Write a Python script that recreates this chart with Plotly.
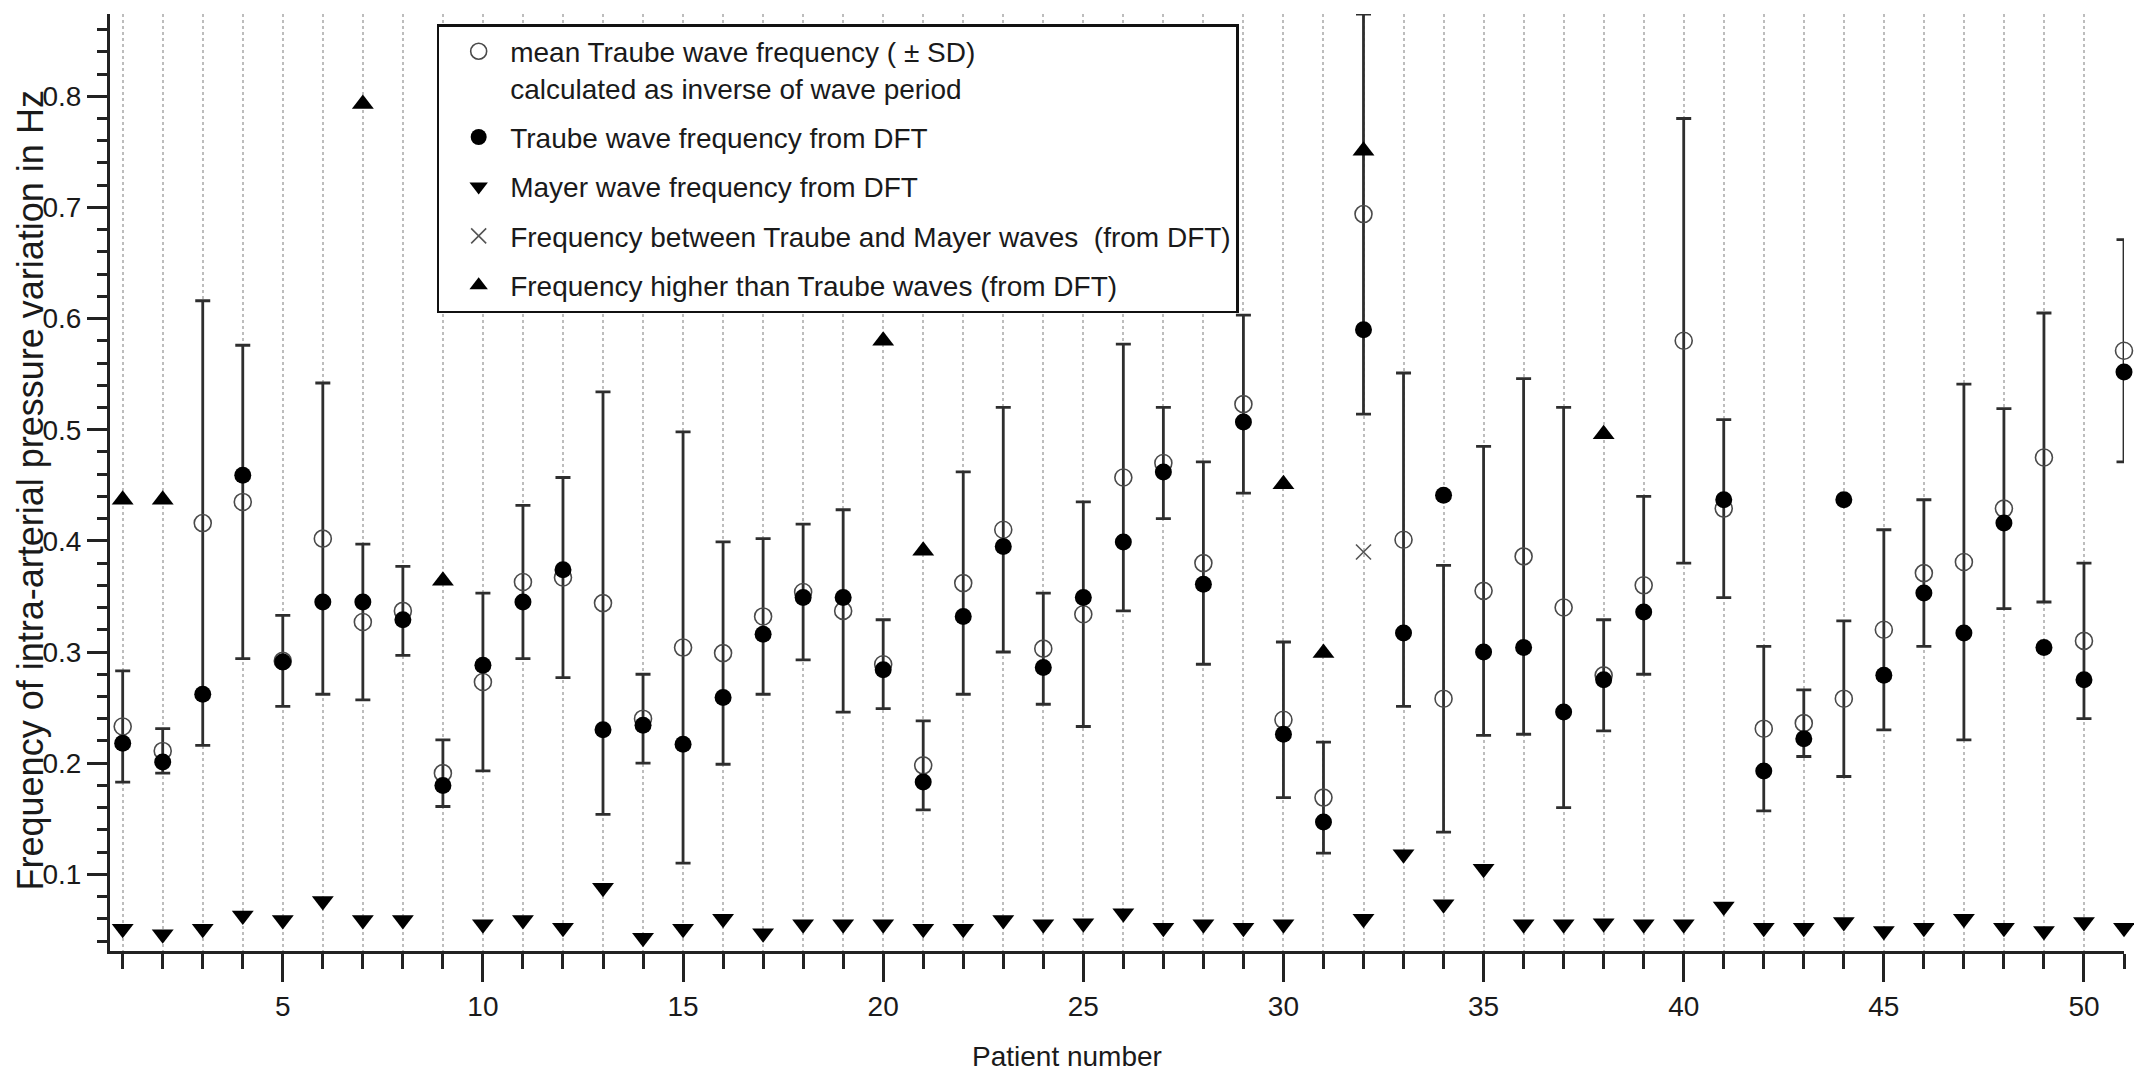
import plotly.graph_objects as go

# Patient index on the x axis
patients = list(range(1, 52))

# Mean Traube wave frequency (inverse of wave period), Hz
mean_freq = [0.233, 0.211, 0.416, 0.435, 0.292, 0.402, 0.327, 0.337, 0.191, 0.273,
             0.363, 0.367, 0.344, 0.240, 0.304, 0.299, 0.332, 0.354, 0.337, 0.289,
             0.198, 0.362, 0.410, 0.303, 0.334, 0.457, 0.470, 0.380, 0.523, 0.239,
             0.169, 0.694, 0.401, 0.258, 0.355, 0.386, 0.340, 0.279, 0.360, 0.580,
             0.429, 0.231, 0.236, 0.258, 0.320, 0.371, 0.381, 0.429, 0.475, 0.310,
             0.571]

# Standard deviation of the mean Traube frequency, Hz
sd_freq = [0.050, 0.020, 0.200, 0.141, 0.041, 0.140, 0.070, 0.040, 0.030, 0.080,
           0.069, 0.090, 0.190, 0.040, 0.194, 0.100, 0.070, 0.061, 0.091, 0.040,
           0.040, 0.100, 0.110, 0.050, 0.101, 0.120, 0.050, 0.091, 0.080, 0.070,
           0.050, 0.180, 0.150, 0.120, 0.130, 0.160, 0.180, 0.050, 0.080, 0.200,
           0.080, 0.074, 0.030, 0.070, 0.090, 0.066, 0.160, 0.090, 0.130, 0.070,
           0.100]

# Traube wave frequency from DFT, Hz (None = not detected)
traube_dft = [0.218, 0.201, 0.262, 0.459, 0.291, 0.345, 0.345, 0.329, 0.180, 0.288,
              0.345, 0.374, 0.230, 0.234, 0.217, 0.259, 0.316, 0.349, 0.349, 0.284,
              0.183, 0.332, 0.395, 0.286, 0.349, 0.399, 0.462, 0.361, 0.507, 0.226,
              0.147, 0.590, 0.317, 0.441, 0.300, 0.304, 0.246, 0.275, 0.336, None,
              0.437, 0.193, 0.222, 0.437, 0.279, 0.353, 0.317, 0.416, 0.304, 0.275,
              0.552]

# Mayer wave frequency from DFT, Hz (None = not detected)
mayer_dft = [0.051, 0.046, 0.051, 0.063, 0.059, 0.076, 0.059, 0.059, None, 0.055,
             0.059, 0.052, 0.088, 0.043, 0.051, 0.060, 0.047, 0.055, 0.055, 0.055,
             0.051, 0.051, 0.059, 0.055, 0.056, 0.065, 0.052, 0.055, 0.052, 0.055,
             None, 0.060, 0.118, 0.073, 0.105, 0.055, 0.055, 0.056, 0.055, 0.055,
             0.071, 0.052, 0.052, 0.057, 0.049, 0.052, 0.060, 0.052, 0.049, 0.057,
             0.052]

# Peaks between Traube and Mayer bands
between_patients = [32]
between_freq = [0.390]

# Peaks above the Traube band
higher_patients = [1, 2, 7, 9, 20, 21, 30, 31, 32, 38]
higher_freq = [0.437, 0.437, 0.793, 0.364, 0.580, 0.391, 0.451, 0.299, 0.751, 0.496]

x_tick_vals = [5, 10, 15, 20, 25, 30, 35, 40, 45, 50]

FONT = "Liberation Sans, Arial, sans-serif"
INK = "#1a1a1a"
GRID = "#bdbdbd"

fig = go.Figure()

fig.add_trace(go.Scatter(
    x=patients, y=mean_freq, mode="markers", legendgroup="mean", cliponaxis=False,
    name="mean Traube wave frequency ( \u00b1 SD)<br>calculated as inverse of wave period",
    marker=dict(symbol="circle-open", size=17, color="#4a4a4a", line=dict(width=1.6, color="#4a4a4a")),
    error_y=dict(type="data", array=sd_freq, visible=True, color="#2e2e2e", thickness=2.8, width=7.5),
))
fig.add_trace(go.Scatter(
    x=patients, y=traube_dft, mode="markers", legendgroup="traube", cliponaxis=False,
    name="Traube wave frequency from DFT",
    marker=dict(symbol="circle", size=17, color="black"),
))
fig.add_trace(go.Scatter(
    x=patients, y=mayer_dft, mode="markers", legendgroup="mayer", cliponaxis=False,
    name="Mayer wave frequency from DFT",
    marker=dict(symbol="triangle-down", size=19, color="black"),
))
fig.add_trace(go.Scatter(
    x=between_patients, y=between_freq, mode="markers", legendgroup="between", cliponaxis=False,
    name="Frequency between Traube and Mayer waves  (from DFT)",
    marker=dict(symbol="x-thin-open", size=15, color="#555555", line=dict(width=1.6, color="#555555")),
))
fig.add_trace(go.Scatter(
    x=higher_patients, y=higher_freq, mode="markers", legendgroup="higher", cliponaxis=False,
    name="Frequency higher than Traube waves (from DFT)",
    marker=dict(symbol="triangle-up", size=19, color="black"),
))

fig.update_layout(
    width=2134, height=1074,
    margin=dict(l=110, r=10, t=14, b=123),
    paper_bgcolor="white", plot_bgcolor="white",
    font=dict(family=FONT, size=28, color=INK),
    showlegend=True,
    legend=dict(
        x=0.1622, y=0.9893, xanchor="left", yanchor="top",
        bgcolor="white", bordercolor="#111111", borderwidth=2.5,
        font=dict(family=FONT, size=28, color=INK),
        tracegroupgap=10, valign="top", traceorder="grouped",
        indentation=8, itemwidth=53,
    ),
    xaxis=dict(
        range=[0.683, 51], tickmode="array", tickvals=x_tick_vals,
        ticks="outside", ticklen=28, tickwidth=3, tickcolor="#222222",
        showline=True, linecolor="#222222", linewidth=3,
        showgrid=True, gridcolor=GRID, gridwidth=1.5, griddash="dot",
        zeroline=False,
        minor=dict(tickmode="linear", tick0=0, dtick=1, ticks="outside", ticklen=15,
                   tickwidth=3, tickcolor="#222222", showgrid=True,
                   gridcolor=GRID, gridwidth=1.5, griddash="dot"),
        tickfont=dict(family=FONT, size=28, color=INK),
    ),
    yaxis=dict(
        range=[0.031, 0.874], tick0=0, dtick=0.1, tickformat=".1f",
        ticks="outside", ticklen=20, tickwidth=3, tickcolor="#222222",
        showline=True, linecolor="#222222", linewidth=3,
        showgrid=False, zeroline=False,
        minor=dict(tick0=0, dtick=0.02, ticks="outside", ticklen=10,
                   tickwidth=3, tickcolor="#222222", showgrid=False),
        tickfont=dict(family=FONT, size=28, color=INK),
    ),
    annotations=[
        dict(text="Patient number", xref="paper", yref="paper",
             x=0.475, y=-0.1128, xanchor="center", yanchor="middle",
             showarrow=False, font=dict(family=FONT, size=28, color=INK)),
        dict(text="Frequency of intra-arterial pressure variation in Hz",
             xref="paper", yref="paper", x=-0.039, y=0.492,
             xanchor="center", yanchor="middle", textangle=-90,
             showarrow=False, font=dict(family=FONT, size=36, color=INK)),
    ],
)

fig.write_html("out.html")
